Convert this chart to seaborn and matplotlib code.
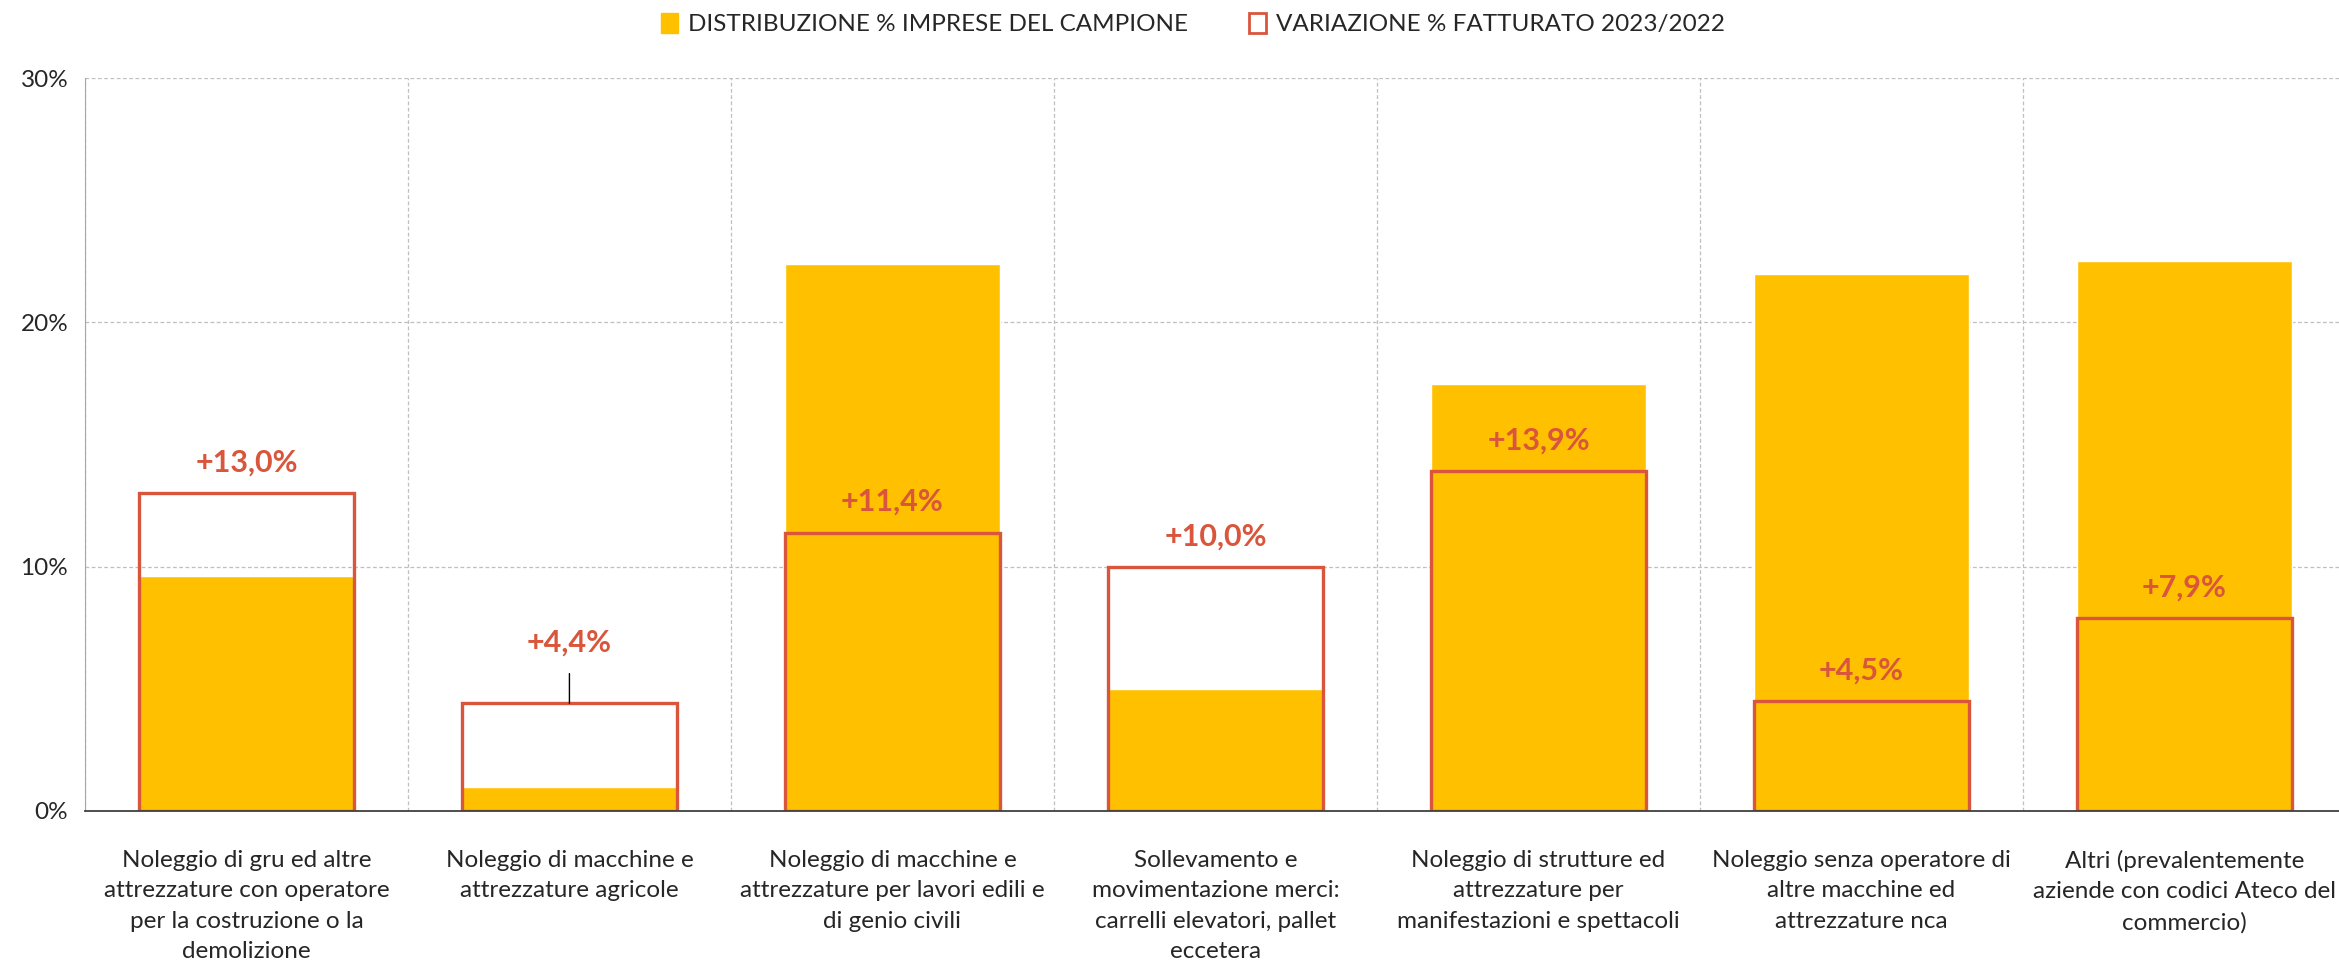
import matplotlib
matplotlib.use('Agg')
import matplotlib.pyplot as plt
from matplotlib.patches import Patch
from matplotlib.ticker import FixedLocator, PercentFormatter
import numpy as np
import pandas as pd
import seaborn as sns

# dati
categorie = [
    "Noleggio di gru ed altre\nattrezzature con operatore\nper la costruzione o la\ndemolizione",
    "Noleggio di macchine e\nattrezzature agricole",
    "Noleggio di macchine e\nattrezzature per lavori edili e\ndi genio civili",
    "Sollevamento e\nmovimentazione merci:\ncarrelli elevatori, pallet\neccetera",
    "Noleggio di strutture ed\nattrezzature per\nmanifestazioni e spettacoli",
    "Noleggio senza operatore di\naltre macchine ed\nattrezzature nca",
    "Altri (prevalentemente\naziende con codici Ateco del\ncommercio)",
]
distribuzione_imprese = [9.6, 1.0, 22.4, 5.0, 17.5, 22.0, 22.5]
variazione_fatturato = [13.0, 4.4, 11.4, 10.0, 13.9, 4.5, 7.9]
y_ticks = [0, 10, 20, 30]

GIALLO = '#FFC000'
ROSSO = '#D9553B'
GRIGIO = '#BFBFBF'

sns.set_style('white')
plt.rcParams['font.family'] = ['Lato', 'DejaVu Sans']

df = pd.DataFrame({'cat': categorie,
                   'distr': distribuzione_imprese,
                   'var': variazione_fatturato})

fig = plt.figure(figsize=(23.39, 9.66), dpi=100)
ax = fig.add_axes([0.0363, 0.1605, 0.9667, 0.7585])

sns.barplot(data=df, x='cat', y='distr', color=GIALLO, saturation=1,
            width=0.665, ax=ax, zorder=2)
sns.barplot(data=df, x='cat', y='var', color=ROSSO, saturation=1, fill=False,
            width=0.665, linewidth=2.4, ax=ax, zorder=3)

ax.set_ylim(0, 30)
ax.set_xlim(-0.5, 6.5)
ax.yaxis.set_major_locator(FixedLocator(y_ticks))
ax.yaxis.set_major_formatter(PercentFormatter(decimals=0))

# tick alle separazioni delle categorie, etichette al centro
ax.set_xticks(np.arange(-0.5, 7, 1.0))
ax.set_xticklabels([])
ax.set_xticks(np.arange(len(categorie)), minor=True)
ax.set_xticklabels(categorie, minor=True, fontsize=17.5, linespacing=1.55)
ax.tick_params(axis='x', which='minor', length=0, pad=28)
ax.tick_params(axis='x', which='major', length=12, width=1, color='#404040', direction='out')
ax.tick_params(axis='y', length=6, color='#A6A6A6', labelsize=17.5, pad=6)

ax.grid(True, axis='both', which='major', color=GRIGIO, linestyle=(0, (3, 2)), linewidth=0.9, zorder=0)
ax.set_axisbelow(True)
ax.set_xlabel('')
ax.set_ylabel('')

for s in ['top', 'right']:
    ax.spines[s].set_visible(False)
ax.spines['left'].set_color('#A6A6A6')
ax.spines['bottom'].set_color('#404040')
ax.spines['bottom'].set_linewidth(1.3)
ax.spines['bottom'].set_zorder(5)

# etichette dei valori
for i, v in enumerate(variazione_fatturato):
    testo = f"+{v:.1f}%".replace('.', ',')
    if i == 1:
        ax.annotate(testo, xy=(i, v), xytext=(i, v + 2.5), ha='center', va='center',
                    fontsize=22, fontweight='bold', color=ROSSO, zorder=6,
                    arrowprops=dict(arrowstyle='-', color='black', lw=1,
                                    shrinkA=10, shrinkB=0))
    else:
        ax.text(i, v + 1.25, testo, ha='center', va='center', fontsize=22,
                fontweight='bold', color=ROSSO, zorder=6)

handles = [Patch(facecolor=GIALLO, edgecolor=GIALLO, label='DISTRIBUZIONE % IMPRESE DEL CAMPIONE'),
           Patch(facecolor='white', edgecolor=ROSSO, linewidth=2, label='VARIAZIONE % FATTURATO 2023/2022')]
fig.legend(handles=handles, loc='center', bbox_to_anchor=(0.51, 0.975), ncol=2,
           frameon=False, fontsize=17.5, handlelength=0.7, handleheight=0.9,
           handletextpad=0.4, columnspacing=2.5)

plt.savefig('out.png', dpi=100)
